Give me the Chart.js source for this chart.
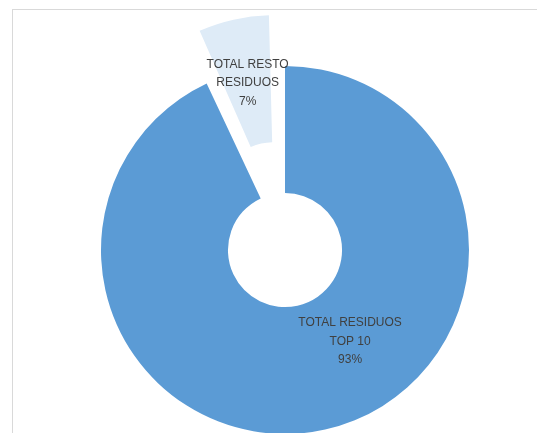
<!DOCTYPE html>
<html><head><meta charset="utf-8">
<script src="https://cdn.jsdelivr.net/npm/chart.js@4/dist/chart.umd.min.js"></script>
<style>
html,body{margin:0;padding:0;background:#fff;width:537px;height:433px;overflow:hidden;}
#frame{position:absolute;left:12px;top:9px;width:524px;height:430px;border-top:1px solid #d9d9d9;border-left:1px solid #d9d9d9;}
#wrap{position:absolute;left:0;top:0;width:537px;height:433px;}
</style></head><body>
<div id="frame"></div>
<div id="wrap"><canvas id="c" width="537" height="433"></canvas></div>
<script>
const categories = [['TOTAL RESIDUOS', 'TOP 10'], ['TOTAL RESTO', 'RESIDUOS']];
const shares = [93, 7];
const sliceColors = ['#5B9BD5', '#DEEBF7'];
const explode = [0, 208];
const labelAngle = [144.5, null];   // degrees clockwise from top, null = slice middle
const labelRadius = [0.93, 0.99];

function radiusFix(arc, i) {
  const off = (explode[i] || 0) / 4;
  if (!off) return 0;
  return off * (1 - Math.sin(Math.min(Math.PI, arc.circumference)));
}

const explodeFix = {
  id: 'explodeFix',
  afterDatasetUpdate(chart, args) {
    args.meta.data.forEach((arc, i) => {
      const f = radiusFix(arc, i);
      arc.outerRadius -= f;
      arc.innerRadius -= f;
    });
  }
};

const sliceLabels = {
  id: 'sliceLabels',
  afterDatasetsDraw(chart) {
    const meta = chart.getDatasetMeta(0);
    const ctx = chart.ctx;
    const total = shares.reduce((a, b) => a + b, 0);
    ctx.save();
    ctx.font = '12px "Liberation Sans", Arial, sans-serif';
    ctx.fillStyle = '#404040';
    ctx.textAlign = 'center';
    ctx.textBaseline = 'middle';
    meta.data.forEach((arc, i) => {
      const off = (explode[i] || 0) / 4;
      const mid = (arc.startAngle + arc.endAngle) / 2;
      const a = labelAngle[i] == null ? mid : (labelAngle[i] - 90) * Math.PI / 180;
      const r = ((arc.innerRadius + arc.outerRadius) / 2 + radiusFix(arc, i)) * labelRadius[i];
      const cx = arc.x + Math.cos(mid) * off + Math.cos(a) * r;
      const cy = arc.y + Math.sin(mid) * off + Math.sin(a) * r;
      const lines = [...categories[i], Math.round(shares[i] / total * 100) + '%'];
      const lh = 18.5;
      lines.forEach((t, k) => ctx.fillText(t, cx, cy + (k - (lines.length - 1) / 2) * lh));
    });
    ctx.restore();
  }
};

new Chart(document.getElementById('c'), {
  type: 'doughnut',
  data: {
    labels: categories,
    datasets: [{
      data: shares,
      backgroundColor: sliceColors,
      borderWidth: 0,
      offset: explode,
      hoverOffset: 0,
      clip: false
    }]
  },
  options: {
    responsive: false,
    animation: false,
    radius: 184,
    cutout: '31%',
    layout: { padding: { left: 33, right: 0, top: 67, bottom: 0 } },
    plugins: { legend: { display: false }, tooltip: { enabled: false } },
    events: []
  },
  plugins: [explodeFix, sliceLabels]
});
</script>
</body></html>
